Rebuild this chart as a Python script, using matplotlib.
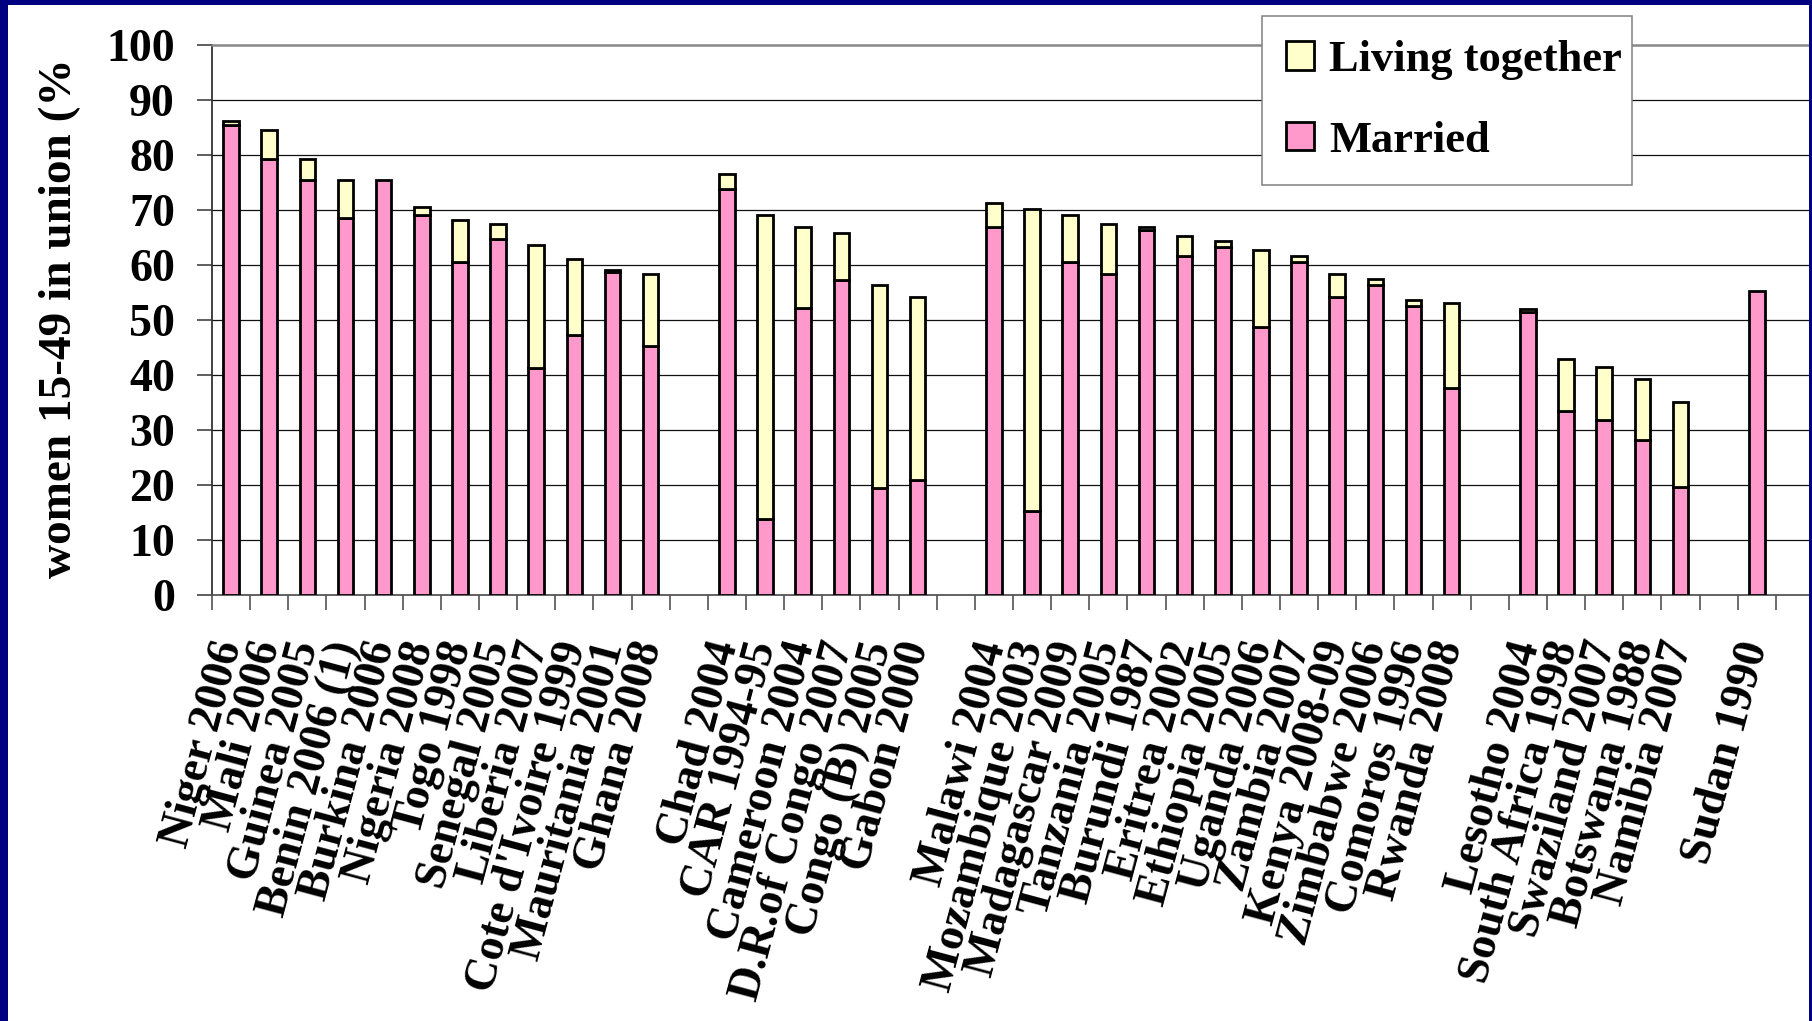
import numpy as np
import matplotlib
matplotlib.use("Agg")
import matplotlib.pyplot as plt
from matplotlib.patches import Patch, Rectangle

plt.rcParams['font.family'] = ['Liberation Serif', 'DejaVu Serif']
plt.rcParams['font.weight'] = 'bold'

# Country / survey labels; empty strings are spacer slots between regions
countries = [
    "Niger 2006", "Mali 2006", "Guinea 2005", "Benin 2006 (1)", "Burkina 2006",
    "Nigeria 2008", "Togo 1998", "Senegal 2005", "Liberia 2007",
    "Cote d'Ivoire 1999", "Mauritania 2001", "Ghana 2008", "",
    "Chad 2004", "CAR 1994-95", "Cameroon 2004", "D.R.of Congo 2007",
    "Congo (B) 2005", "Gabon 2000", "",
    "Malawi 2004", "Mozambique 2003", "Madagascar 2009", "Tanzania 2005",
    "Burundi 1987", "Eritrea 2002", "Ethiopia 2005", "Uganda 2006",
    "Zambia 2007", "Kenya 2008-09", "Zimbabwe 2006", "Comoros 1996",
    "Rwanda 2008", "",
    "Lesotho 2004", "South Africa 1998", "Swaziland 2007", "Botswana 1988",
    "Namibia 2007", "",
    "Sudan 1990", "",
]

# Percentage of women 15-49 currently married
married = [
    85.5, 79.2, 75.4, 68.6, 75.4, 69.1, 60.6, 64.8, 41.3, 47.2, 58.8, 45.2, None,
    73.8, 13.8, 52.1, 57.3, 19.4, 21.0, None,
    66.9, 15.3, 60.6, 58.4, 66.3, 61.6, 63.2, 48.8, 60.6, 54.1, 56.3, 52.5, 37.7, None,
    51.4, 33.4, 31.9, 28.1, 19.6, None,
    55.3, None,
]

# Percentage of women 15-49 living together (consensual union)
living = [
    0.6, 5.4, 3.8, 6.8, 0.0, 1.5, 7.5, 2.7, 22.3, 13.8, 0.3, 13.2, None,
    2.7, 55.3, 14.8, 8.6, 37.0, 33.2, None,
    4.3, 54.9, 8.5, 9.1, 0.6, 3.7, 1.1, 13.9, 1.0, 4.3, 1.1, 1.2, 15.4, None,
    0.6, 9.6, 9.5, 11.2, 15.4, None,
    0.0, None,
]

yticks = list(range(0, 101, 10))

PINK = '#FF99CC'
CREAM = '#FFFFCC'
NAVY = '#000080'

W, H = 1812, 1021
fig = plt.figure(figsize=(W / 100, H / 100), dpi=100)
fig.patch.set_facecolor('white')

left, right, top, bottom = 212, 1814, 45, 595
ax = fig.add_axes([left / W, (H - bottom) / H, (right - left) / W, (bottom - top) / H])

pos = np.arange(len(countries))
idx = [i for i, m in enumerate(married) if m is not None]
m_vals = np.array([married[i] for i in idx])
l_vals = np.array([living[i] for i in idx])
x_vals = pos[idx]

bar_w = 0.41
ax.bar(x_vals, m_vals, width=bar_w, color=PINK, edgecolor='black',
       linewidth=2.0, zorder=3)
has_l = l_vals > 0
ax.bar(x_vals[has_l], l_vals[has_l], bottom=m_vals[has_l], width=bar_w,
       color=CREAM, edgecolor='black', linewidth=2.0, zorder=3)

ax.set_xlim(-0.5, len(countries) - 0.5)
ax.set_ylim(0, 100)

# Horizontal gridlines
for v in yticks[1:-1]:
    ax.axhline(v, color='#111111', linewidth=0.9, zorder=1)

# Category boundary ticks (unlabelled) and centred labels
ax.set_xticks(np.arange(len(countries) + 1) - 0.5)
ax.set_xticklabels([])
ax.set_xticks(pos, countries, minor=True)
ax.tick_params(axis='x', which='major', direction='out', length=10.8,
               width=1.1, color='#444444')
ax.tick_params(axis='x', which='minor', length=0, pad=34, labelsize=33)
for lab in ax.get_xticklabels(minor=True):
    lab.set_rotation(75)
    lab.set_ha('right')
    lab.set_va('center')
    lab.set_rotation_mode('anchor')
    lab.set_fontweight('bold')

ax.set_yticks(yticks)
ax.set_yticklabels([str(v) for v in yticks])
ax.tick_params(axis='y', direction='out', length=10.8, width=1.1,
               color='#333333', pad=16, labelsize=33)
for lab in ax.get_yticklabels():
    lab.set_fontweight('bold')

ax.spines['right'].set_visible(False)
ax.spines['top'].set_color('#888888')
ax.spines['top'].set_linewidth(1.8)
ax.spines['left'].set_color('#333333')
ax.spines['left'].set_linewidth(1.3)
ax.spines['bottom'].set_color('#555555')
ax.spines['bottom'].set_linewidth(1.3)

fig.text(60 / W, 1 - 318 / H, "women 15-49 in union (%", rotation=90,
         ha='center', va='center', fontsize=34, fontweight='bold')

handles = [Patch(facecolor=CREAM, edgecolor='black', linewidth=2.0),
           Patch(facecolor=PINK, edgecolor='black', linewidth=2.0)]
leg = ax.legend(handles, ["Living together", "Married"], loc='upper left',
                bbox_to_anchor=(1262 / W, 1 - 179 / H, (1632 - 1262) / W, (179 - 16) / H),
                bbox_transform=fig.transFigure, mode='expand', borderaxespad=0,
                prop={'family': 'Liberation Serif', 'weight': 'bold', 'size': 32},
                frameon=True, fancybox=False, framealpha=1, edgecolor='#808080',
                handlelength=0.63, handleheight=0.61, handletextpad=0.34,
                labelspacing=0.92, borderpad=0.54)
leg.get_frame().set_linewidth(1.1)
leg.set_zorder(5)

# Dark navy slide frame
for (x0, y0, w, h) in [(0, 0, 8, H), (0, 0, W, 5), (W - 3, 0, 3, H)]:
    fig.add_artist(Rectangle((x0 / W, 1 - (y0 + h) / H), w / W, h / H,
                             transform=fig.transFigure, facecolor=NAVY,
                             edgecolor='none', zorder=20))

fig.savefig("out.png", dpi=100, facecolor='white')
